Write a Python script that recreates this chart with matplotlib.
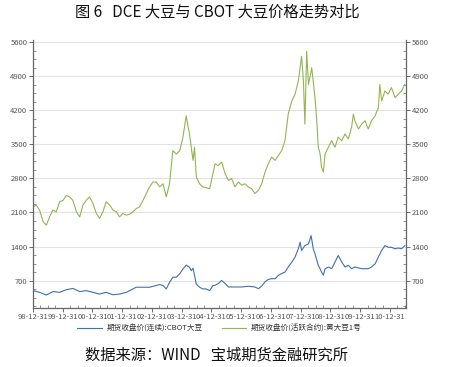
import matplotlib
matplotlib.use("Agg")
import matplotlib.pyplot as plt
from matplotlib.ticker import MultipleLocator

plt.rcParams['font.family'] = ['Noto Sans CJK SC', 'DejaVu Sans']

# CBOT soybean (blue), decimal year -> price
cbot_x = [1999.00, 1999.22, 1999.45, 1999.67, 1999.90, 2000.12, 2000.34, 2000.57, 2000.79,
          2001.02, 2001.24, 2001.46, 2001.69, 2001.91, 2002.14, 2002.36, 2002.47, 2002.70,
          2002.92, 2003.14, 2003.26, 2003.37, 2003.48, 2003.59, 2003.70, 2003.82, 2003.93,
          2004.04, 2004.15, 2004.26, 2004.32, 2004.38, 2004.49, 2004.60, 2004.71, 2004.82,
          2004.94, 2005.05,
          2005.12, 2005.23, 2005.34, 2005.46, 2005.57, 2005.79, 2006.02, 2006.24, 2006.46,
          2006.58, 2006.69, 2006.80, 2006.91, 2007.02, 2007.14, 2007.25, 2007.36, 2007.47,
          2007.58, 2007.70, 2007.81, 2007.92, 2007.98, 2008.03, 2008.14, 2008.26, 2008.35,
          2008.42, 2008.48, 2008.59, 2008.65, 2008.70, 2008.76, 2008.82, 2008.93, 2009.04,
          2009.15, 2009.26, 2009.32, 2009.38, 2009.49, 2009.60, 2009.71, 2009.82, 2010.05,
          2010.27, 2010.38, 2010.50, 2010.61, 2010.72, 2010.83, 2010.94, 2011.05, 2011.17,
          2011.28, 2011.39, 2011.50]
cbot_y = [495, 460, 405, 475, 460, 515, 540, 475, 495,
          460, 425, 460, 410, 425, 460, 530, 565, 565,
          565, 600, 620, 600, 530, 665, 770, 770, 840,
          940, 1020, 975, 905, 955, 630, 565, 530, 530,
          495, 600,
          605, 640, 705, 640, 570, 570, 570, 585, 570,
          535, 590, 675, 725, 740, 740, 810, 845, 875,
          980, 1080, 1185, 1355, 1490, 1320, 1420, 1455, 1625,
          1355, 1250, 1015, 945, 875, 810, 945, 980, 945,
          1080, 1215, 1150, 1080, 980, 1015, 945, 980, 945,
          945, 980, 1045, 1185, 1320, 1420, 1385, 1385, 1355,
          1370, 1355, 1420]

# DCE No.1 soybean (green)
dce_x = [1999.00, 1999.11, 1999.22, 1999.34, 1999.45, 1999.56, 1999.67, 1999.78, 1999.90,
         2000.01, 2000.12, 2000.23, 2000.34, 2000.46, 2000.57, 2000.68, 2000.79, 2000.90,
         2001.02, 2001.13, 2001.24, 2001.35, 2001.46, 2001.58, 2001.69, 2001.80, 2001.91,
         2002.02, 2002.14, 2002.25, 2002.36, 2002.47, 2002.58, 2002.70, 2002.81, 2002.92,
         2003.03, 2003.14, 2003.26, 2003.37, 2003.48, 2003.59, 2003.70, 2003.82, 2003.93,
         2004.04, 2004.15, 2004.26, 2004.38, 2004.43, 2004.49, 2004.60, 2004.71, 2004.82,
         2004.94, 2005.05,
         2005.12, 2005.23, 2005.34, 2005.46, 2005.57, 2005.68, 2005.79, 2005.90, 2006.02,
         2006.13, 2006.24, 2006.35, 2006.46, 2006.58, 2006.69, 2006.80, 2006.91, 2007.02,
         2007.14, 2007.25, 2007.36, 2007.47, 2007.58, 2007.70, 2007.81, 2007.92, 2008.03,
         2008.09, 2008.14, 2008.20, 2008.26, 2008.37, 2008.48, 2008.54, 2008.59, 2008.65,
         2008.70, 2008.76, 2008.82, 2008.93, 2009.04, 2009.15, 2009.26, 2009.38, 2009.49,
         2009.60, 2009.71, 2009.77, 2009.82, 2009.94, 2010.05, 2010.16, 2010.27, 2010.38,
         2010.50, 2010.61, 2010.66, 2010.72, 2010.83, 2010.94, 2011.05, 2011.17, 2011.28,
         2011.39, 2011.50]
dce_y = [2215, 2250, 2150, 1910, 1840, 2010, 2150, 2115, 2320,
         2350, 2450, 2420, 2350, 2115, 2010, 2250, 2350, 2420,
         2280, 2080, 1980, 2115, 2320, 2250, 2150, 2115, 2010,
         2080, 2045, 2065, 2115, 2180, 2215, 2350, 2490, 2625,
         2725, 2725, 2625, 2690, 2420, 2690, 3370, 3300, 3370,
         3640, 4085, 3710, 3170, 3440, 2830, 2690, 2625, 2610,
         2590, 2900,
         3100, 3065, 3135, 2895, 2760, 2795, 2625, 2725, 2660,
         2690, 2625, 2590, 2490, 2555, 2690, 2930, 3100, 3235,
         3170, 3270, 3370, 3575, 4120, 4390, 4530, 4800, 5310,
         4800, 3915, 5410, 4730, 5070, 4460, 3985, 3440, 3305,
         3030, 2930, 3305, 3440, 3575, 3440, 3645, 3575, 3710,
         3610, 3850, 4120, 3985, 3815, 3915, 3985, 3815, 3985,
         4085, 4255, 4730, 4390, 4595, 4530, 4665, 4460, 4530,
         4595, 4730]

year_ticks = [1999, 2000, 2001, 2002, 2003, 2004, 2005, 2006, 2007, 2008, 2009, 2010, 2011]
year_labels = ['98-12-31', '99-12-31', '00-12-31', '01-12-31', '02-12-31', '03-12-31',
               '04-12-31', '05-12-31', '06-12-31', '07-12-31', '08-12-31', '09-12-31', '10-12-31']
price_ticks = [700, 1400, 2100, 2800, 3500, 4200, 4900, 5600]

fig = plt.figure(figsize=(4.5, 3.67), dpi=100)
ax = fig.add_axes([0.0733, 0.161, 0.829, 0.731])

ax.plot(cbot_x, cbot_y, color='#3f70b0', lw=0.8, label='期货收盘价(连续):CBOT大豆')
ax.plot(dce_x, dce_y, color='#93b552', lw=0.8, label='期货收盘价(活跃合约):黄大豆1号')

ax.set_xlim(1999.0, 2011.54)
ax.set_ylim(140, 5650)
ax.set_yticks(price_ticks)
ax.yaxis.set_minor_locator(MultipleLocator(175))
ax.set_xticks(year_ticks)
ax.set_xticklabels(year_labels)
ax.xaxis.set_minor_locator(MultipleLocator(0.25))
ax.grid(axis='y', color='#e2e2e2', lw=0.8)
ax.set_axisbelow(True)

ax.spines['top'].set_visible(False)
for s in ['left', 'right', 'bottom']:
    ax.spines[s].set_color('#666666')
    ax.spines[s].set_linewidth(0.9)

ax.tick_params(axis='both', which='major', labelsize=5.5, colors='#555555',
               length=3, width=0.6, direction='out', pad=1)
ax.tick_params(axis='both', which='minor', length=2, width=0.5, color='#666666', direction='in')
ax.tick_params(axis='y', which='both', right=True, labelright=True)

ax.legend(loc='upper center', bbox_to_anchor=(0.5, -0.035), ncol=2, frameon=False,
          fontsize=5.5, handlelength=3.2, columnspacing=2.5, handletextpad=0.6,
          labelcolor='#333333')

fig.text(0.482, 0.966, '图 6   DCE 大豆与 CBOT 大豆价格走势对比', ha='center', va='center',
         fontsize=11, color='#111111')
fig.text(0.482, 0.033, '数据来源：WIND   宝城期货金融研究所', ha='center', va='center',
         fontsize=11, color='#111111')

fig.savefig('out.png', dpi=100)
